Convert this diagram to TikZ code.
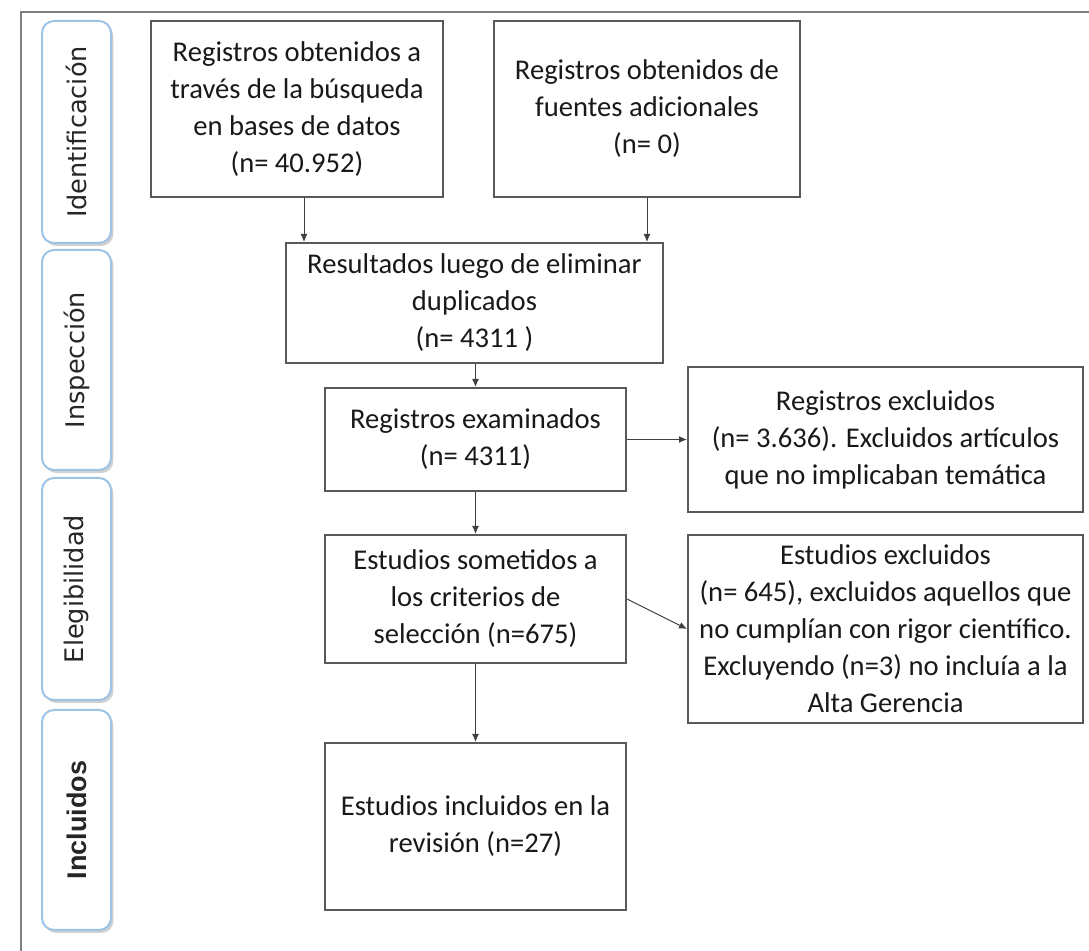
\documentclass[tikz,border=0pt]{standalone}
\usepackage{fontspec}
\setmainfont{Carlito}
\newfontfamily\fasefont{DejaVu Sans}
\newfontfamily\inclfont{Liberation Sans}
\usetikzlibrary{arrows.meta,shadows}
\definecolor{azulfase}{HTML}{9DC3E6}
\definecolor{marco}{HTML}{808080}

\begin{document}
\begin{tikzpicture}[x=0.5pt,y=-0.5pt,
	caja/.style={draw=black!65, line width=1pt, fill=white, align=center, inner sep=0pt,
		font=\fontsize{14.3}{18.5}\selectfont, text=black!90},
	fase/.style={draw=azulfase, line width=1pt, fill=white, rounded corners=6pt,
		minimum width=34.5pt, inner sep=0pt, text=black!85,
		font=\fasefont\fontsize{12.8}{15}\selectfont,
		drop shadow={shadow xshift=1.2pt, shadow yshift=-1.5pt, opacity=0.3, fill=black!60}},
	flecha/.style={-{Latex[length=4pt,width=3.5pt]}, line width=0.5pt, draw=black!75}]
	\useasboundingbox (0,0) rectangle (1089,951);
	\draw[marco, line width=1.2pt] (21,951) -- (21,12) -- (1089,12);

	\node[fase, minimum height=111pt] (ident) at (76.5,132) {\rotatebox{90}{Identificación}};
	\node[fase, minimum height=110pt] (insp) at (76.5,360) {\rotatebox{90}{Inspección}};
	\node[fase, minimum height=111pt] (eleg) at (76.5,589) {\rotatebox{90}{Elegibilidad}};
	\node[fase, minimum height=110pt, font=\inclfont\bfseries\fontsize{13.5}{16}\selectfont] (incl) at (76.5,820) {\rotatebox{90}{Incluidos}};

	\node[caja, minimum width=146pt, minimum height=88pt] (base) at (297,109)
		{Registros obtenidos a\\través de la búsqueda\\en bases de datos\\(n= 40.952)};
	\node[caja, minimum width=153pt, minimum height=88pt] (adic) at (647,109)
		{Registros obtenidos de\\fuentes adicionales\\(n= 0)};
	\node[caja, minimum width=188.5pt, minimum height=60pt] (dupl) at (474.5,303)
		{Resultados luego de eliminar\\duplicados\\(n= 4311 )};
	\node[caja, minimum width=150.5pt, minimum height=51.5pt] (exam) at (475.5,439.5)
		{Registros examinados\\(n= 4311)};
	\node[caja, minimum width=197.5pt, minimum height=72.5pt] (regx) at (885.5,439.5)
		{Registros excluidos\\(n= 3.636). Excluidos artículos\\que no implicaban temática};
	\node[caja, minimum width=150.5pt, minimum height=64pt] (crit) at (475.5,599)
		{Estudios sometidos a\\los criterios de\\selección (n=675)};
	\node[caja, minimum width=197.5pt, minimum height=94pt] (estx) at (885.5,629)
		{Estudios excluidos\\(n= 645), excluidos aquellos que\\no cumplían con rigor científico.\\Excluyendo (n=3) no incluía a la\\Alta Gerencia};
	\node[caja, minimum width=150.5pt, minimum height=83.5pt] (revi) at (475.5,826.5)
		{Estudios incluidos en la\\revisión (n=27)};

	\draw[flecha] ([xshift=3.5pt]base.south) -- ([xshift=3.5pt]base.south |- dupl.north);
	\draw[flecha] (adic.south) -- (adic.south |- dupl.north);
	\draw[flecha] (dupl.south -| exam.north) -- (exam.north);
	\draw[flecha] (exam.east) -- (regx.west);
	\draw[flecha] (exam.south) -- (crit.north);
	\draw[flecha] (crit.east) -- (estx.west);
	\draw[flecha] (crit.south) -- (revi.north);
\end{tikzpicture}
\end{document}
